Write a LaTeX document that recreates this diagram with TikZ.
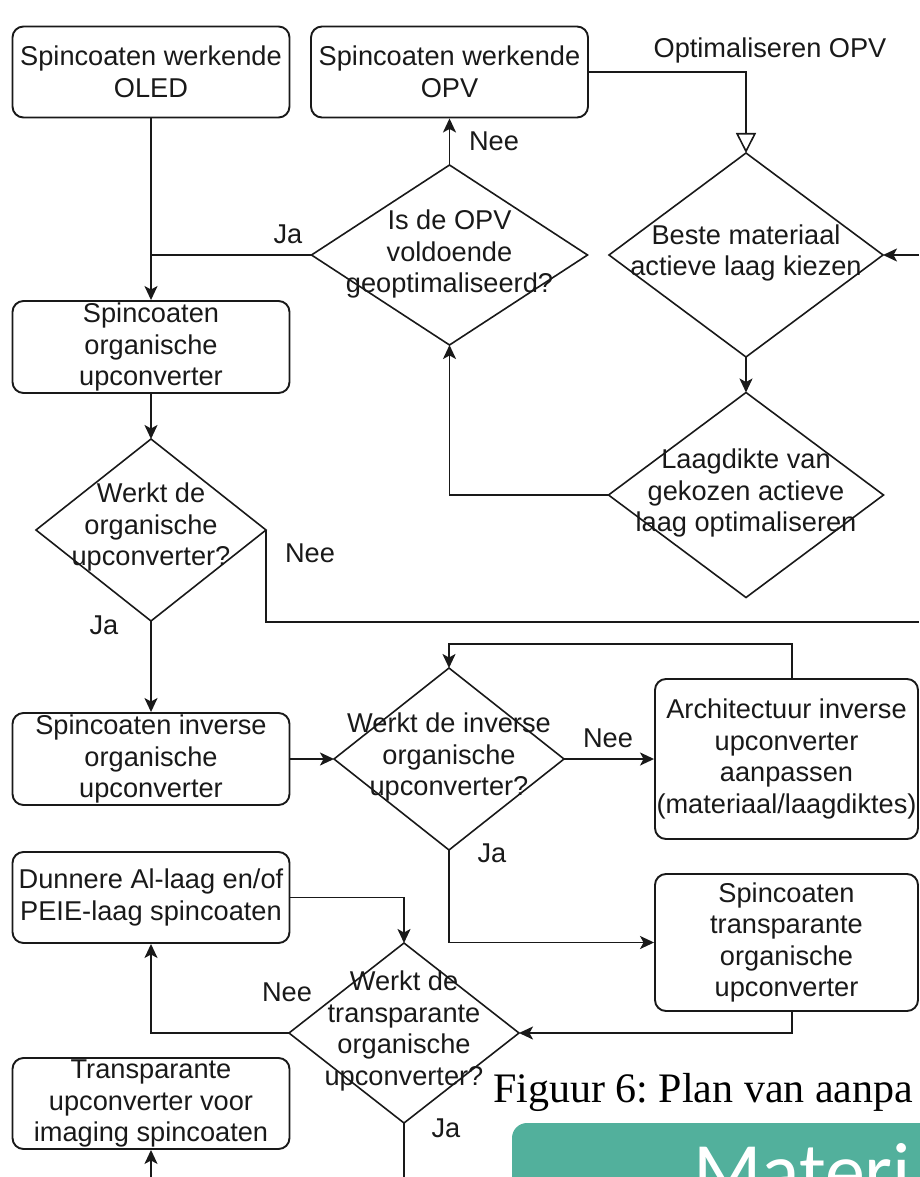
\documentclass[tikz,border=0pt]{standalone}
\usepackage{fontspec}
\setmainfont{Liberation Sans}
\newfontfamily\capfont{Liberation Serif}
\newfontfamily\matfont{Carlito}
\usetikzlibrary{shapes.geometric,arrows.meta}
\definecolor{tealbox}{HTML}{52B09C}
\frenchspacing
\begin{document}
\begin{tikzpicture}[x=1pt,y=-1pt,
  every node/.style={font=\fontsize{27.2}{31.5}\selectfont, text=black!90},
  box/.style={draw=black!90, rounded corners=11pt, line width=1.9pt, minimum width=277pt, minimum height=91pt, align=center, inner sep=0pt},
  dia/.style={draw=black!90, diamond, line width=1.6pt, inner sep=0pt, outer sep=0pt},
  txt/.style={align=center, inner sep=0pt},
  conn/.style={draw=black!90, line width=1.9pt, -{Stealth[length=14pt,width=13pt,inset=3.5pt]}},
  plainline/.style={draw=black!90, line width=1.9pt},
  lbl/.style={inner sep=0pt}]
\useasboundingbox (0,0) rectangle (919,1177);
% boxes
\node[box] (oled) at (151,72) {Spincoaten werkende\\OLED};
\node[box] (opv) at (449.5,72) {Spincoaten werkende\\OPV};
\node[box, minimum height=92pt] (sorg) at (151,347) {Spincoaten\\organische\\upconverter};
\node[box, minimum height=92pt] (sinv) at (151,759) {Spincoaten inverse\\organische\\upconverter};
\node[box, minimum width=263pt, minimum height=160pt] (arch) at (786.5,759) {Architectuur inverse\\upconverter\\aanpassen\\(materiaal/laagdiktes)};
\node[box, minimum width=263pt, minimum height=137pt] (strans) at (786.5,942.5) {Spincoaten\\transparante\\organische\\upconverter};
\node[box] (dun) at (151,897.5) {Dunnere Al-laag en/of\\PEIE-laag spincoaten};
\node[box] (trans) at (151,1103.5) {Transparante\\upconverter voor\\imaging spincoaten};
% diamonds
\node[dia, minimum width=274pt, minimum height=204pt] (beste) at (746,255) {};
\node[dia, minimum width=275pt, minimum height=205pt] (lag) at (746,495) {};
\node[dia, minimum width=276pt, minimum height=180pt] (isopv) at (449.5,255) {};
\node[dia, minimum width=230pt, minimum height=182pt] (worg) at (151,530) {};
\node[dia, minimum width=230pt, minimum height=182pt] (winv) at (449,759) {};
\node[dia, minimum width=230pt, minimum height=180pt] (wtrans) at (404,1033) {};
\node[txt] (besteT) at (746,253) {Beste materiaal\\actieve laag kiezen};
\node[txt] (lagT) at (746,493) {Laagdikte van\\gekozen actieve\\laag optimaliseren};
\node[txt] (isopvT) at (449.5,254) {Is de OPV\\voldoende\\geoptimaliseerd?};
\node[txt] (worgT) at (151,527) {Werkt de\\organische\\upconverter?};
\node[txt] (winvT) at (449,757) {Werkt de inverse\\organische\\upconverter?};
\node[txt] (wtransT) at (404,1031) {Werkt de\\transparante\\organische\\upconverter?};
% connectors
\coordinate (rin) at (919,255);
\coordinate (rout) at (919,622);
\coordinate (bot) at (404,1177);
\coordinate (bot2) at (151,1177);
\draw[conn] (oled.south) -- (sorg.north);
\draw[plainline, -{Triangle[open, length=20pt, width=20pt, line width=1.6pt]}] (opv.east) -| (beste.north);
\draw[conn] (rin) -- (beste.east);
\draw[conn] (beste.south) -- (lag.north);
\draw[conn] (lag.west) -| (isopv.south);
\draw[conn] (isopv.north) -- (opv.south);
\draw[plainline] (isopv.west) -- (isopv.west -| oled.south);
\draw[conn] (sorg.south) -- (worg.north);
\draw[plainline] (worg.east) |- (rout);
\draw[conn] (worg.south) -- (sinv.north);
\draw[conn] (sinv.east) -- (winv.west);
\draw[conn] (winv.east) -- (arch.west);
\draw[conn] ([xshift=5.5pt]arch.north) -- ++(0,-34) -| (winv.north);
\draw[conn] (winv.south) |- (strans.west);
\draw[conn] ([xshift=5.5pt]strans.south) |- (wtrans.east);
\draw[conn] (dun.east) -| (wtrans.north);
\draw[conn] (wtrans.west) -| (dun.south);
\draw[plainline] (wtrans.south) -- (bot);
\draw[conn] (bot2) -- (trans.south);
% labels
\node[lbl] (l1) at (770,50) {Optimaliseren OPV};
\node[lbl] (l2) at (494,141) {Nee};
\node[lbl] (l3) at (288,234) {Ja};
\node[lbl] (l4) at (310,553) {Nee};
\node[lbl] (l5) at (104,625) {Ja};
\node[lbl] (l6) at (608,738) {Nee};
\node[lbl] (l7) at (492,853) {Ja};
\node[lbl] (l8) at (287,992) {Nee};
\node[lbl] (l9) at (446,1128) {Ja};
% caption and heading box
\node[anchor=base west, inner sep=0pt, font=\capfont\fontsize{42}{50}\selectfont, text=black] (cap) at (493,1102) {Figuur 6: Plan van aanpa};
\fill[tealbox, rounded corners=15pt] (512,1123) rectangle (980,1260);
\node[anchor=base west, inner sep=0pt, font=\matfont\fontsize{80}{90}\selectfont, text=white] (mat) at (693,1198) {Materi};
\end{tikzpicture}
\end{document}
